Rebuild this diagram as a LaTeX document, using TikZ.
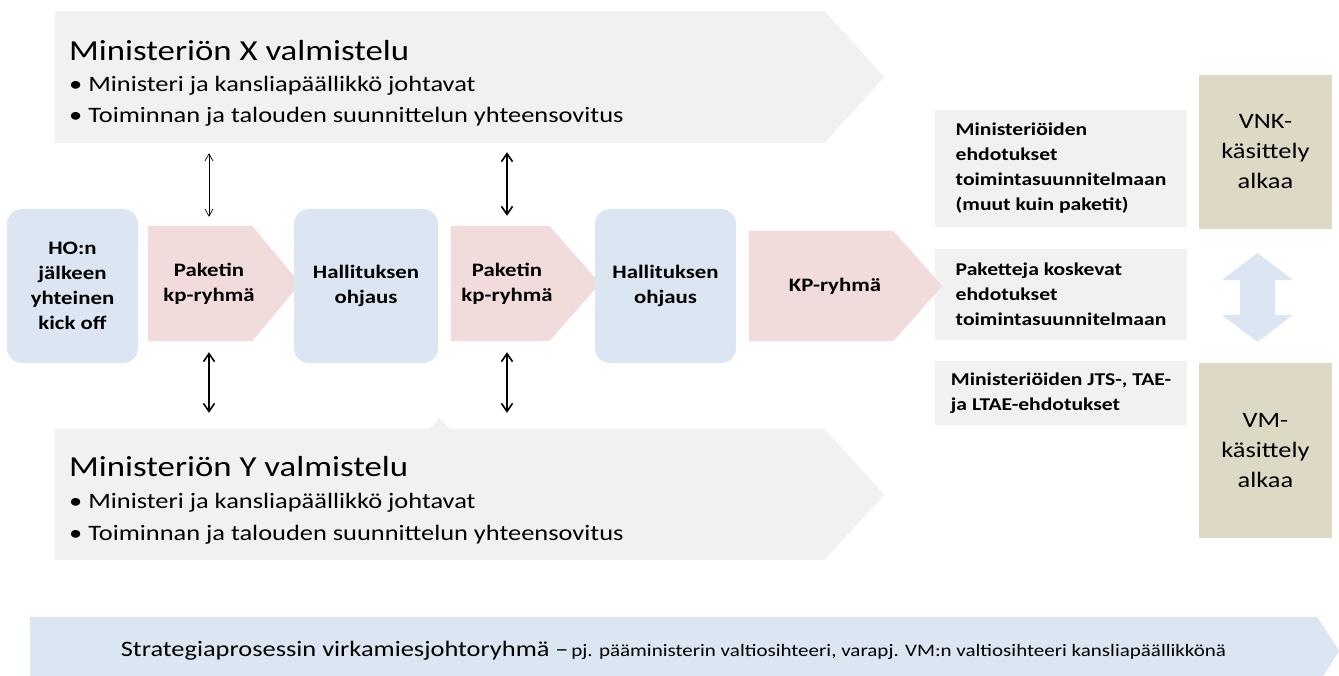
\documentclass[tikz,border=0pt]{standalone}
\usepackage{fontspec}
\setmainfont{Carlito}[FakeStretch=1.2]
\usetikzlibrary{arrows.meta,backgrounds,calc}
\definecolor{arrowgray}{HTML}{F1F1F1}
\definecolor{boxblue}{HTML}{DCE6F2}
\definecolor{chevpink}{HTML}{F2DCDB}
\definecolor{stagetan}{HTML}{DDD9C4}
\newcommand\chevfill[4]{\fill[#1] (#2.north west)--([xshift=-#3]#2.north east)--([xshift=#4]#2.east)--([xshift=-#3]#2.south east)--(#2.south west)--cycle;}
\tikzset{
	body/.style={inner sep=0pt},
	prep/.style={anchor=base west,inner sep=0pt,font=\fontsize{22}{26}\selectfont},
	preptitle/.style={anchor=base west,inner sep=0pt,font=\fontsize{29}{34}\selectfont},
	chevtext/.style={inner sep=0pt,minimum height=115,align=center,font=\bfseries\fontsize{19}{25}\selectfont},
	stagebox/.style={fill=boxblue,rounded corners=15pt,minimum height=154,align=center,font=\bfseries\fontsize{19}{25}\selectfont},
	proposal/.style={fill=arrowgray,minimum width=252,align=left,font=\bfseries\fontsize{18}{25}\selectfont},
	handling/.style={fill=stagetan,minimum width=133,align=center,font=\fontsize{22}{30}\selectfont},
	link/.style={<->,line width=1.6pt,>={Straight Barb[length=8pt,width=11pt]}},
	linkthin/.style={<->,line width=0.7pt,>={Straight Barb[length=7pt,width=8pt]}}
}
\begin{document}
\begin{tikzpicture}[x=1pt,y=-1pt]
	\useasboundingbox (0,0) rectangle (1339,675);
	%		\draw[thin,color=gray!20](0,0)grid[step=50](1339,675);
	\node[body,minimum width=769,minimum height=132] (mx) at (439.5,77) {};
	\node[preptitle] (mxt) at (69,60) {Ministeriön X valmistelu};
	\node[prep] (mx1) at (69,91) {• Ministeri ja kansliapäällikkö johtavat};
	\node[prep] (mx2) at (69,122) {• Toiminnan ja talouden suunnittelun yhteensovitus};
	\node[body,minimum width=769,minimum height=131] (my) at (439.5,494.5) {};
	\node[preptitle] (myt) at (69,476) {Ministeriön Y valmistelu};
	\node[prep] (my1) at (69,508) {• Ministeri ja kansliapäällikkö johtavat};
	\node[prep] (my2) at (69,540) {• Toiminnan ja talouden suunnittelun yhteensovitus};
	\node[chevtext,minimum width=122] (pk1) at (209,283.5) {Paketin\\kp-ryhmä};
	\node[chevtext,minimum width=112] (pk2) at (507,283.5) {Paketin\\kp-ryhmä};
	\node[chevtext,minimum width=172,minimum height=110] (kp) at (835,286) {KP-ryhmä};
	\node[stagebox,minimum width=131] (ho) at (72.5,286) {HO:n\\jälkeen\\yhteinen\\kick off};
	\node[stagebox,minimum width=144] (hal1) at (366,286) {Hallituksen\\ohjaus};
	\node[stagebox,minimum width=141] (hal2) at (665.5,286) {Hallituksen\\ohjaus};
	\node[handling,minimum height=154] (vnk) at (1265.5,152) {VNK-\\käsittely\\alkaa};
	\node[handling,minimum height=175] (vm) at (1265.5,450.5) {VM-\\käsittely\\alkaa};
	\node[body,minimum width=1287,minimum height=68] (bar) at (673.5,651) {{\fontsize{22}{26}\selectfont Strategiaprosessin virkamiesjohtoryhmä –} {\fontsize{17.5}{20}\selectfont pj. pääministerin valtiosihteeri, varapj. VM:n valtiosihteeri kansliapäällikkönä}};
	\begin{scope}[on background layer]
		\chevfill{arrowgray}{mx}{0}{60}
		\chevfill{arrowgray}{my}{0}{60}
		\fill[arrowgray] ([xshift=-10]my.north)--([yshift=11]my.north)--([xshift=10]my.north)--cycle;
		\chevfill{boxblue}{bar}{0}{22}
		\chevfill{chevpink}{pk1}{18}{30}
		\chevfill{chevpink}{pk2}{14}{37}
		\node[proposal,minimum height=117] (ehd1) at (1061,168.5) {Ministeriöiden\\ehdotukset\\toimintasuunnitelmaan\\(muut kuin paketit)};
		\node[proposal,minimum height=91] (ehd2) at (1061,294.5) {Paketteja koskevat\\ehdotukset\\toimintasuunnitelmaan};
		\node[proposal,minimum height=64] (ehd3) at (1061,393) {Ministeriöiden JTS-, TAE-\\ja LTAE-ehdotukset};
		\chevfill{chevpink}{kp}{28}{21}
	\end{scope}
	\fill[boxblue] (1257.5,253)--(1293,280)--(1275,280)--(1275,315)--(1293,315)--(1257.5,342)--(1222,315)--(1240,315)--(1240,280)--(1222,280)--cycle;
	\draw[linkthin,shorten <=10pt,shorten >=9pt] (pk1.north |- mx.south)--(pk1.north);
	\draw[link,shorten <=9pt,shorten >=10pt] (pk2.north |- mx.south)--(pk2.north);
	\draw[link,shorten <=11pt,shorten >=16pt] (pk1.south)--(pk1.south |- my.north);
	\draw[link,shorten <=11pt,shorten >=16pt] (pk2.south)--(pk2.south |- my.north);
\end{tikzpicture}
\end{document}
